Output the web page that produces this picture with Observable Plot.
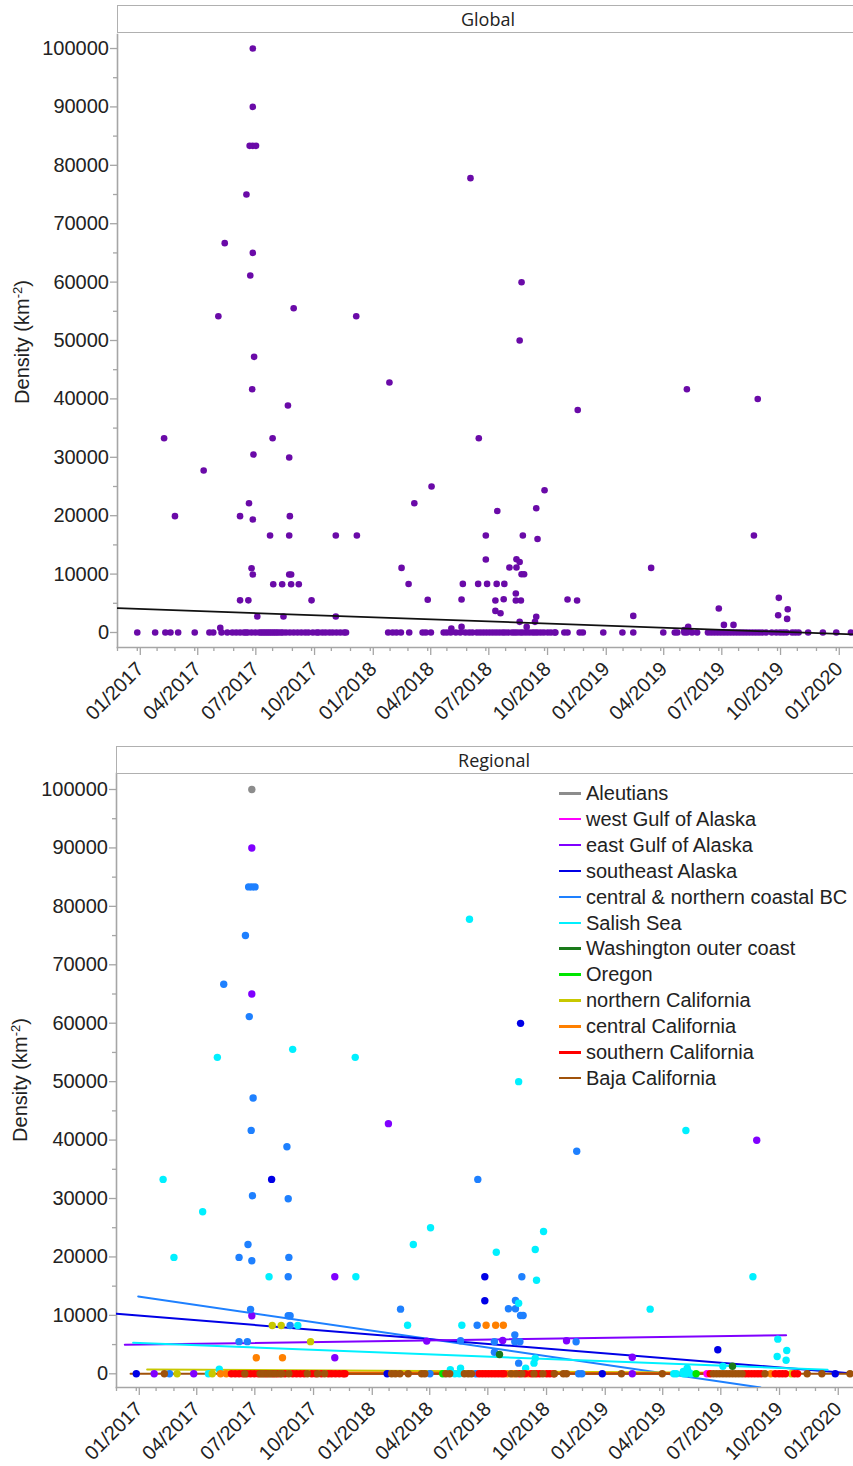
<!DOCTYPE html>
<html><head><meta charset="utf-8">
<script src="https://cdn.jsdelivr.net/npm/d3@7"></script>
<script src="https://cdn.jsdelivr.net/npm/@observablehq/plot@0.6"></script>
<style>
html,body{margin:0;padding:0;background:#fff;}
body{width:853px;height:1466px;overflow:hidden;position:relative;font-family:"Liberation Sans",Arial,sans-serif;color:#222;}
.chart{position:absolute;left:0;}
.strip{position:absolute;height:28px;border:1.5px solid #b0b0b0;border-right:none;box-sizing:border-box;background:#fff;}
.striplabel{position:absolute;width:200px;text-align:center;font-family:"Open Sans",sans-serif;font-size:18px;color:#222;line-height:28px;}
.ylab{position:absolute;width:200px;text-align:center;transform:rotate(-90deg);white-space:nowrap;font-size:20px;color:#222;line-height:24px;}
.ylab sup{font-size:13px;vertical-align:7px;line-height:0;}
.legend{position:absolute;left:559px;font-size:20px;color:#222;}
.legend .row{position:absolute;left:0;white-space:nowrap;height:26px;line-height:26px;}
.legend .sw{position:absolute;left:0;top:12px;width:22px;height:2.5px;}
.legend .tx{position:absolute;left:27px;top:0;}
</style>
</head><body>
<div id="topchart" class="chart" style="top:0"></div>
<div id="botchart" class="chart" style="top:740px"></div>
<div class="strip" style="left:117px;top:5px;width:760px"></div>
<div class="striplabel" style="left:388px;top:5px">Global</div>
<div class="strip" style="left:116px;top:746px;width:760px"></div>
<div class="striplabel" style="left:394px;top:746px">Regional</div>
<div class="ylab" style="left:-78px;top:330px">Density (km<sup>-2</sup>)</div>
<div class="ylab" style="left:-80px;top:1068px">Density (km<sup>-2</sup>)</div>
<div id="legend" class="legend" style="top:780px"></div>
<script>
// ---------- data ----------
const regionNames = ["Aleutians","west Gulf of Alaska","east Gulf of Alaska","southeast Alaska",
  "central & northern coastal BC","Salish Sea","Washington outer coast","Oregon",
  "northern California","central California","southern California","Baja California"];
const regionColors = ["#8c8c8c","#ff00ff","#8000ff","#0000e6","#1e80ff","#00f0ff","#1a7a1a",
  "#00e600","#c8c800","#ff8000","#ff0000","#a0520a"];
const globalColor = "#6a0aa8";

const aleutians = [["2017-07-01",100000]];
const westGulf = [["2019-06-14",0]];
const eastGulf = [["2017-01-29",0],["2017-04-01",0],["2017-07-01",90000],["2017-07-01",65000],["2017-07-01",9930],
  ["2017-11-08",16610],["2017-11-08",2750],["2018-01-31",42810],["2018-04-01",5600],["2018-07-29",5700],
  ["2018-11-06",5650],["2019-02-17",2840],["2019-02-17",0],["2019-08-31",39980]];
const southeastAlaska = [["2017-01-01",0],["2017-08-01",33270],["2018-01-29",0],["2018-07-01",16610],["2018-07-01",12490],
  ["2018-08-26",59980],["2019-01-01",0],["2019-07-01",4110],["2020-01-01",0]];
const centralBC = [["2017-02-22",0],["2017-05-18",66670],["2017-06-11",19920],["2017-06-11",5500],["2017-06-21",75000],
  ["2017-06-24",5500],["2017-06-25",22140],["2017-06-26",83333],["2017-06-27",61130],["2017-06-29",11010],
  ["2017-06-30",41660],["2017-07-01",83333],["2017-07-01",19350],["2017-07-02",30480],["2017-07-03",47200],
  ["2017-07-06",83333],["2017-08-25",38870],["2017-08-27",29970],["2017-08-27",16610],["2017-08-27",9930],
  ["2017-08-28",19920],["2017-08-30",9930],["2017-08-30",8270],["2018-02-19",11060],["2018-04-06",0],
  ["2018-05-24",5650],["2018-06-17",0],["2018-06-19",8320],["2018-06-20",33270],["2018-07-16",5480],
  ["2018-07-16",3700],["2018-08-07",11120],["2018-08-17",6670],["2018-08-17",5480],["2018-08-18",11120],
  ["2018-08-18",12540],["2018-08-23",1820],["2018-08-25",5480],["2018-08-26",9980],["2018-08-28",16610],
  ["2018-08-30",9980],["2018-11-21",5480],["2018-11-22",38100],["2018-11-25",0],["2018-11-30",0]];
const salishSea = [["2017-02-12",33270],["2017-03-01",19920],["2017-04-15",27740],["2017-04-24",0],["2017-05-08",54160],
  ["2017-05-11",790],["2017-07-28",16610],["2017-09-03",55530],["2017-09-11",8270],["2017-12-10",54160],
  ["2017-12-11",16610],["2018-03-02",8300],["2018-03-11",22140],["2018-04-07",25000],["2018-05-08",680],
  ["2018-05-15",0],["2018-05-22",0],["2018-05-24",960],["2018-05-26",8320],["2018-06-07",77800],
  ["2018-07-19",20810],["2018-08-23",50000],["2018-08-23",12080],["2018-09-03",960],["2018-09-16",1820],
  ["2018-09-18",2680],["2018-09-18",21270],["2018-09-20",16020],["2018-10-01",24350],["2019-03-17",11060],
  ["2019-04-23",0],["2019-04-27",0],["2019-05-08",400],["2019-05-08",0],["2019-05-12",41640],["2019-05-12",0],
  ["2019-05-14",960],["2019-05-16",300],["2019-05-20",0],["2019-07-09",1300],["2019-08-25",16610],
  ["2019-10-02",2960],["2019-10-03",5930],["2019-10-16",2330],["2019-10-17",3990]];
const washington = [["2018-07-24",3300],["2019-07-24",1300]];
const oregon = [["2018-04-26",0],["2019-05-28",0]];
const northernCalifornia = [["2017-03-06",0],["2017-04-30",0],["2017-08-02",8270],["2017-08-16",8270],
  ["2017-10-01",5500],["2019-10-24",0]];
const centralCalifornia = [["2017-05-13",0],["2017-05-22",0],["2017-07-08",2750],["2017-08-18",2750],
  ["2018-07-03",8320],["2018-07-18",8320],["2018-07-30",8320],["2018-08-05",0],["2018-08-15",0],
  ["2018-09-07",0],["2019-09-22",0]];
const southernCalifornia = [["2017-05-30",0],["2017-06-05",0],["2017-06-11",0],["2017-06-17",0],["2017-06-23",0],
  ["2017-06-29",0],["2017-07-05",0],["2017-07-11",0],["2017-07-23",0],["2017-08-04",0],["2017-08-10",0],
  ["2017-08-22",0],["2017-09-03",0],["2017-09-09",0],["2017-09-15",0],["2017-09-21",0],["2017-10-03",0],
  ["2017-10-09",0],["2017-10-18",0],["2017-10-29",0],["2017-11-03",0],["2017-11-09",0],["2017-11-15",0],
  ["2017-11-21",0],["2017-11-24",0],
  ["2018-06-22",0],["2018-06-27",0],["2018-07-02",0],["2018-07-07",0],["2018-07-12",0],["2018-07-17",0],
  ["2018-07-22",0],["2018-07-27",0],["2018-07-31",0],["2018-08-24",0],["2018-09-02",0],["2018-09-12",0],
  ["2018-09-20",0],["2018-09-25",0],["2018-10-06",0],["2018-10-11",0],["2018-10-17",0],
  ["2019-06-19",0],["2019-08-13",0],["2019-08-18",0],["2019-08-23",0],["2019-08-28",0],["2019-09-02",0],
  ["2019-09-07",0],["2019-09-29",0],["2019-10-05",0],["2019-10-10",0],["2019-10-15",0],["2019-10-29",0],
  ["2019-11-03",0]];
const bajaCalifornia = [["2017-02-14",0],["2017-06-20",0],["2017-07-14",0],["2017-07-17",0],["2017-07-20",0],
  ["2017-07-26",0],["2017-07-29",0],["2017-08-01",0],["2017-08-07",0],["2017-08-14",0],["2017-08-17",0],
  ["2017-08-28",0],["2017-09-26",0],["2017-10-12",0],["2017-10-23",0],
  ["2018-02-05",0],["2018-02-11",0],["2018-02-18",0],["2018-03-03",0],["2018-03-24",0],["2018-03-29",0],
  ["2018-05-01",0],["2018-05-07",0],["2018-05-30",0],["2018-06-05",0],["2018-06-10",0],["2018-08-11",0],
  ["2018-08-19",0],["2018-08-28",0],["2018-09-16",0],["2018-09-30",0],["2018-10-18",0],["2018-11-01",0],
  ["2018-11-06",0],
  ["2019-01-31",0],["2019-04-05",0],["2019-06-24",0],["2019-06-29",0],["2019-07-04",0],["2019-07-09",0],
  ["2019-07-14",0],["2019-07-19",0],["2019-07-24",0],["2019-07-29",0],["2019-08-03",0],["2019-08-08",0],
  ["2019-09-13",0],["2019-11-18",0],["2019-12-11",0],["2020-01-24",0]];

// fitted trend lines (end points)
const globalTrendDates = ["2016-12-01","2020-01-28"];
const globalTrendValues = [4160,-340];
const trendRegions = ["central & northern coastal BC","southeast Alaska","east Gulf of Alaska","Salish Sea",
  "northern California","central California","southern California","Baja California"];
const trendStartDates = ["2017-01-04","2016-12-01","2016-12-14","2016-12-27","2017-01-18","2017-05-13","2017-05-30","2016-12-23"];
const trendStartValues = [13230,10270,4960,5300,740,250,0,0];
const trendEndDates = ["2019-09-06","2020-01-24","2019-10-16","2019-12-20","2019-10-24","2019-09-22","2019-11-03","2020-01-24"];
const trendEndValues = [-2345,100,6600,680,100,100,0,0];

const xTickLabels = ["01/2017","04/2017","07/2017","10/2017","01/2018","04/2018","07/2018","10/2018",
  "01/2019","04/2019","07/2019","10/2019","01/2020"];
const yTicks = [0,10000,20000,30000,40000,50000,60000,70000,80000,90000,100000];
const yMinorTicks = [5000,15000,25000,35000,45000,55000,65000,75000,85000,95000];

// ---------- build tables ----------
const regionSeries = [aleutians,westGulf,eastGulf,southeastAlaska,centralBC,salishSea,washington,oregon,
  northernCalifornia,centralCalifornia,southernCalifornia,bajaCalifornia];
const points = regionSeries.flatMap((s,i) => s.map(([d,v]) => ({date:new Date(d), value:v, region:regionNames[i]})));
const globalTrend = globalTrendDates.map((d,i) => ({date:new Date(d), value:globalTrendValues[i]}));
const trends = trendRegions.flatMap((r,i) => [
  {region:r, date:new Date(trendStartDates[i]), value:trendStartValues[i]},
  {region:r, date:new Date(trendEndDates[i]), value:trendEndValues[i]}]);
const parseTick = s => new Date(Date.UTC(+s.slice(3), +s.slice(0,2)-1, 1));
const xTicks = xTickLabels.map(parseTick);
const xDomain = [new Date("2016-12-01"), new Date("2020-01-28")];
const xMinor = d3.utcMonths(xDomain[0], xDomain[1]);
const fmt = d => xTickLabels[xTicks.findIndex(t => +t === +d)];

const axisStroke = "#a6a6a6";
function axes() {
  return [
    Plot.axisY(yMinorTicks, {tickSize:4, tickFormat:() => "", stroke:axisStroke, strokeWidth:1.3, label:null}),
    Plot.axisY(yTicks, {tickSize:7, tickPadding:1.5, stroke:axisStroke, strokeWidth:1.3, fill:"#222", fontSize:20, label:null, tickFormat:d => String(d)}),
    Plot.axisX(xMinor, {tickSize:4, tickFormat:() => "", stroke:axisStroke, strokeWidth:1.3, label:null}),
    Plot.axisX(xTicks, {tickSize:8, tickPadding:10, dx:3, tickRotate:-45, stroke:axisStroke, strokeWidth:1.3, fill:"#222", fontSize:20, label:null, tickFormat:fmt}),
    Plot.frame({anchor:"left", stroke:axisStroke, strokeWidth:1.6}),
    Plot.frame({anchor:"bottom", stroke:axisStroke, strokeWidth:1.6})
  ];
}

const topChart = Plot.plot({
  width:853, height:740, marginTop:34, marginBottom:93, marginLeft:117, marginRight:0,
  style:{fontFamily:"Liberation Sans, Arial, sans-serif", background:"transparent", overflow:"visible"},
  x:{type:"utc", domain:xDomain, axis:null},
  y:{domain:[-2570,102400], axis:null},
  marks:[
    ...axes(),
    Plot.dot(points, {x:"date", y:"value", r:3.3, fill:globalColor, stroke:null}),
    Plot.line(globalTrend, {x:"date", y:"value", stroke:"#111", strokeWidth:1.8, clip:true})
  ]
});
document.getElementById("topchart").append(topChart);

const botChart = Plot.plot({
  width:852, height:726, marginTop:33, marginBottom:79, marginLeft:116, marginRight:0,
  style:{fontFamily:"Liberation Sans, Arial, sans-serif", background:"transparent", overflow:"visible"},
  x:{type:"utc", domain:xDomain, axis:null},
  y:{domain:[-2345,102738], axis:null},
  color:{domain:regionNames, range:regionColors},
  marks:[
    ...axes(),
    Plot.line(trends, {x:"date", y:"value", z:"region", stroke:"region", strokeWidth:2, clip:true}),
    Plot.dot(points, {x:"date", y:"value", r:3.7, fill:"region", stroke:null})
  ]
});
document.getElementById("botchart").append(botChart);

// legend
const lg = document.getElementById("legend");
regionNames.forEach((name,i) => {
  const row = document.createElement("div");
  row.className = "row";
  row.style.top = (i*25.9) + "px";
  row.innerHTML = `<span class="sw" style="background:${regionColors[i]}"></span><span class="tx">${name.replace("&","&amp;")}</span>`;
  lg.append(row);
});
</script>
</body></html>
